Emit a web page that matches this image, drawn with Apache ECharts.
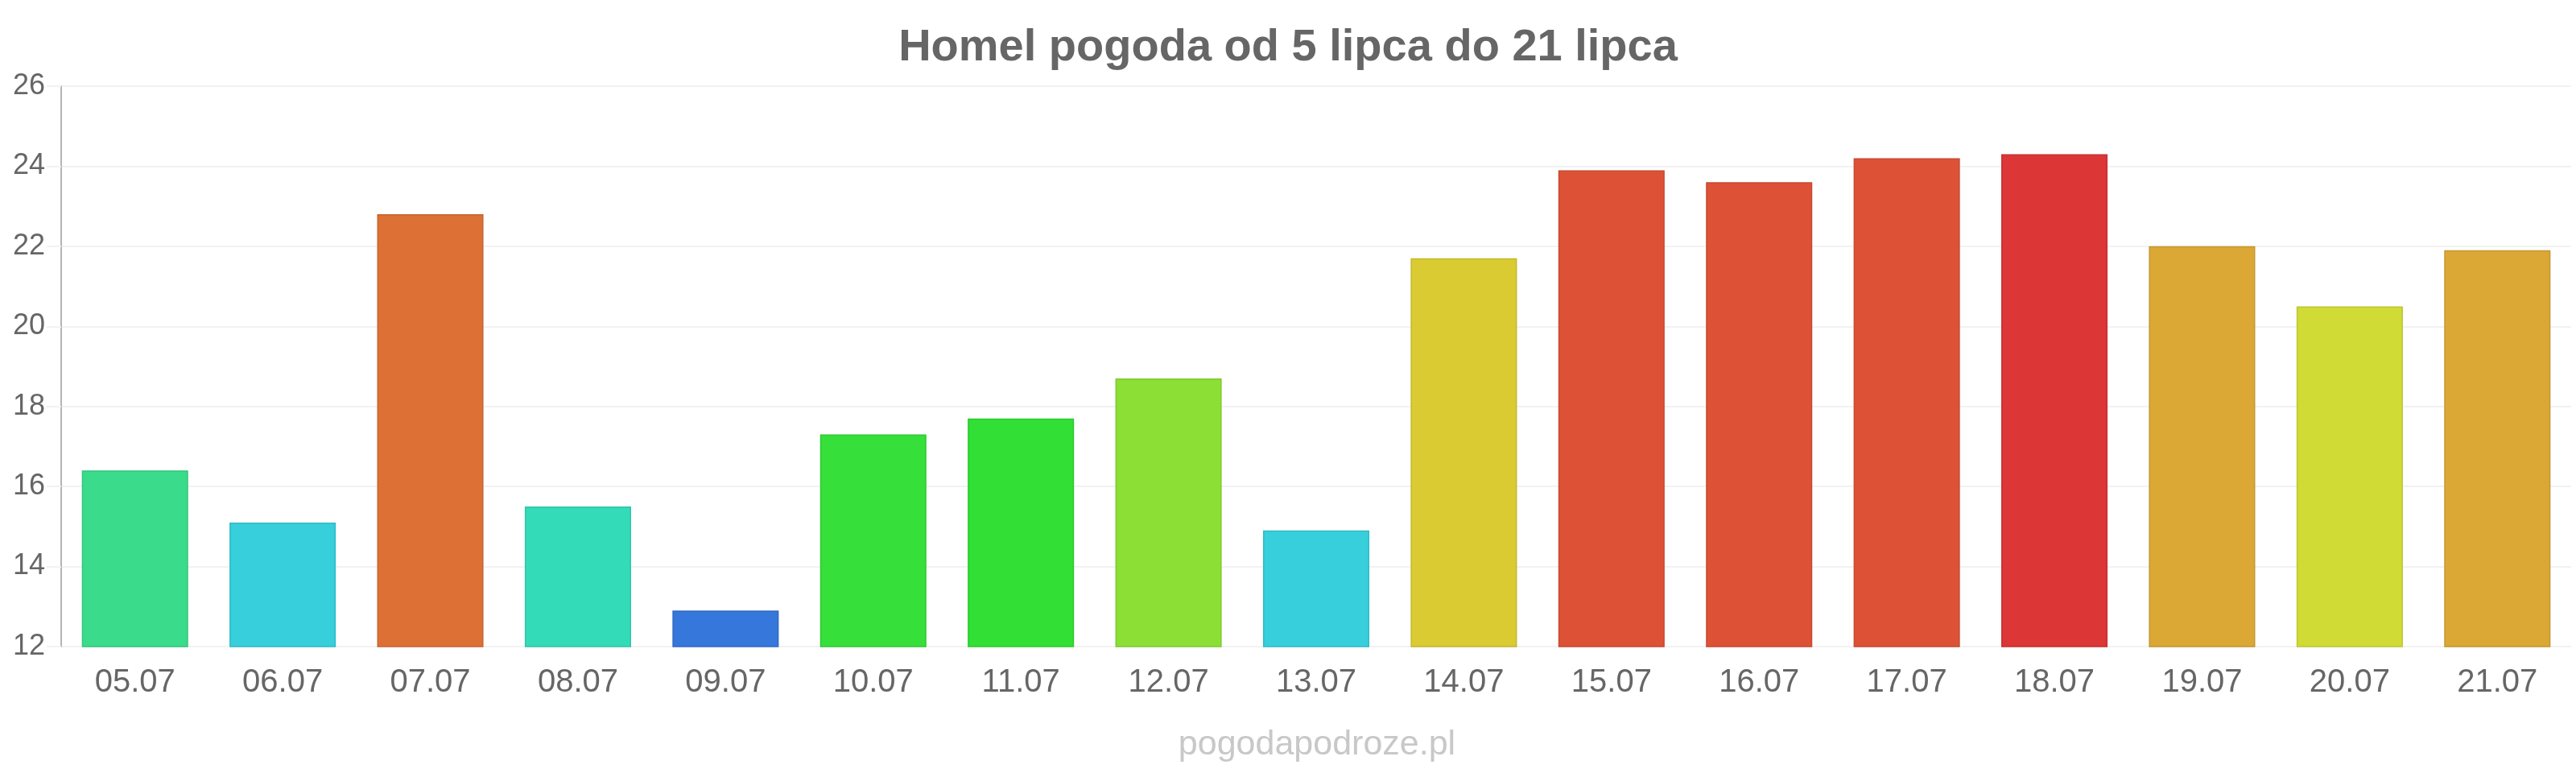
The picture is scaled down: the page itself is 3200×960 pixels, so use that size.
<!DOCTYPE html>
<html>
<head>
<meta charset="utf-8">
<title>Homel pogoda</title>
<script src="https://cdn.jsdelivr.net/npm/echarts@6/dist/echarts.min.js"></script>
<style>
  html, body { margin: 0; padding: 0; background: #fff; }
  #chart { width: 3200px; height: 960px; }
</style>
</head>
<body>
<div id="chart"></div>
<script>
// dni (kategorie)
const days = ["05.07", "06.07", "07.07", "08.07", "09.07", "10.07", "11.07", "12.07", "13.07",
  "14.07", "15.07", "16.07", "17.07", "18.07", "19.07", "20.07", "21.07"];
// temperatura
const temps = [16.4, 15.1, 22.8, 15.5, 12.9, 17.3, 17.7, 18.7, 14.9,
  21.7, 23.9, 23.6, 24.2, 24.3, 22.0, 20.5, 21.9];
// kolory slupkow
const barColors = ["#3adb8a", "#36cfdb", "#dc7035", "#34dbb8", "#3677db", "#36df3a", "#31df35", "#8cdf35", "#36cfdb",
  "#dbcb33", "#dd5236", "#dd5236", "#dd5236", "#dc3636", "#dba835", "#d0dc35", "#dba835"];

function darken(hex, f) {
  const n = parseInt(hex.slice(1), 16);
  const r = Math.round(((n >> 16) & 255) * f);
  const g = Math.round(((n >> 8) & 255) * f);
  const b = Math.round((n & 255) * f);
  return "rgb(" + r + "," + g + "," + b + ")";
}

const chart = echarts.init(document.getElementById("chart"));
const font = "'Liberation Sans', Arial, sans-serif";

const option = {
  animation: false,
  title: {
    text: "Homel pogoda od 5 lipca do 21 lipca",
    left: "center",
    top: 27,
    textStyle: { color: "#666", fontSize: 56, fontWeight: "bold", fontFamily: font },
  },
  // znak wodny
  graphic: [
    {
      type: "text",
      x: 1636,
      y: 925,
      style: {
        text: "pogodapodroze.pl",
        fill: "#c8c8c8",
        font: "43px " + font,
        textAlign: "center",
        textVerticalAlign: "middle",
      },
    },
  ],
  grid: {
    left: 76,
    right: 6,
    top: 107,
    bottom: 157,
    containLabel: false,
  },
  xAxis: {
    type: "category",
    data: days,
    axisLine: { show: false },
    axisTick: { show: false },
    axisLabel: { color: "#666", fontSize: 40, fontFamily: font, margin: 25 },
  },
  yAxis: {
    type: "value",
    min: 12,
    max: 26,
    interval: 2,
    axisLine: { show: true, lineStyle: { color: "#b4b4b4", width: 2 } },
    axisTick: { show: true, length: 18, lineStyle: { color: "#f2f2f2", width: 2 } },
    axisLabel: { color: "#666", fontSize: 36, fontFamily: font, margin: 20 },
    splitLine: { lineStyle: { color: "#f2f2f2", width: 2 } },
  },
  series: [
    {
      type: "bar",
      barCategoryGap: "28%",
      data: temps.map((v, i) => ({
        value: v,
        itemStyle: { color: barColors[i], borderColor: darken(barColors[i], 0.9), borderWidth: 1.5 },
      })),
    },
  ],
};

chart.setOption(option);
</script>
</body>
</html>
